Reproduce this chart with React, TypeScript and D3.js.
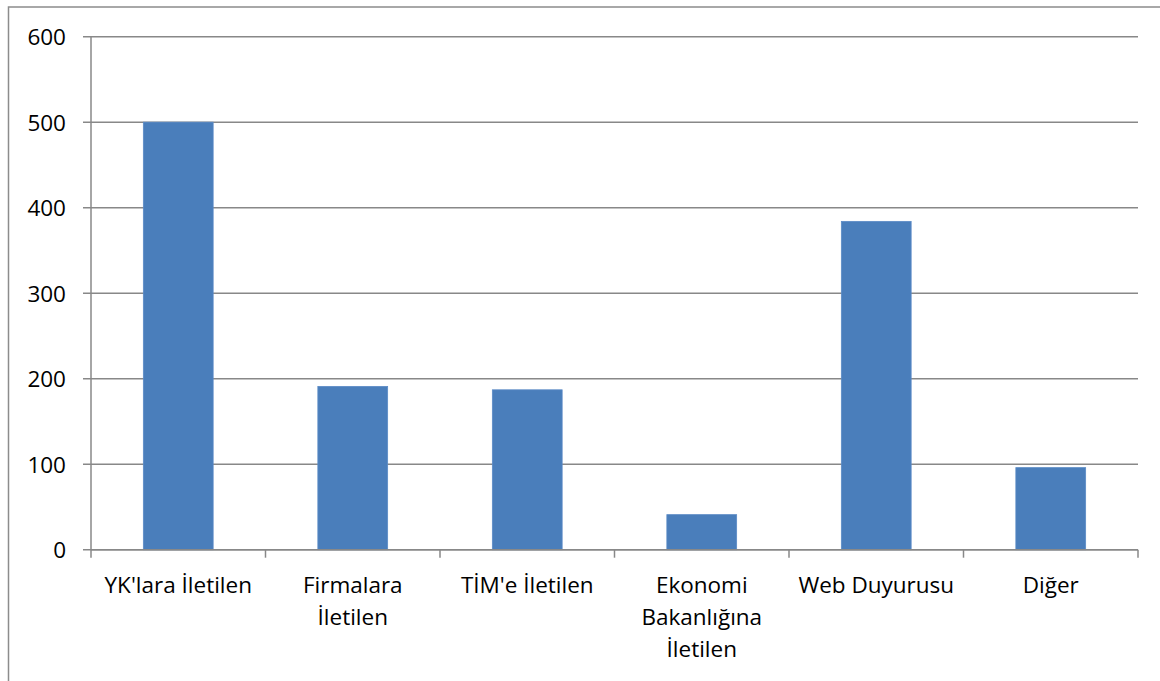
import React, { useEffect, useRef } from "react";
import * as d3 from "d3";

const categories: string[][] = [
  ["YK'lara İletilen"],
  ["Firmalara", "İletilen"],
  ["TİM'e İletilen"],
  ["Ekonomi", "Bakanlığına", "İletilen"],
  ["Web Duyurusu"],
  ["Diğer"],
];
const values: number[] = [500, 191, 187, 41, 384, 96];
const yTicks: number[] = [0, 100, 200, 300, 400, 500, 600];

const W = 1160;
const H = 681;

export default function App() {
  const ref = useRef<SVGSVGElement>(null);

  useEffect(() => {
    const svg = d3.select(ref.current);
    svg.selectAll("*").remove();

    const left = 91, right = 1138, top = 36.7, bottom = 549.7;
    const font = "Open Sans, sans-serif";
    const grid = "#888888";
    const fs = 22.5;

    const x = d3
      .scaleBand<number>()
      .domain(d3.range(categories.length))
      .range([left, right])
      .paddingInner(0.6)
      .paddingOuter(0.3);
    const step = (right - left) / categories.length;
    const y = d3.scaleLinear().domain([0, 600]).range([bottom, top]);

    // outer frame
    svg.append("rect")
      .attr("x", 8.5).attr("y", 7)
      .attr("width", W + 20).attr("height", H + 20)
      .attr("fill", "white")
      .attr("stroke", "#8c8c8c").attr("stroke-width", 1.5);

    // gridlines + y ticks
    yTicks.forEach((t) => {
      svg.append("line")
        .attr("x1", left - 8).attr("x2", right)
        .attr("y1", y(t)).attr("y2", y(t))
        .attr("stroke", grid).attr("stroke-width", 1.5);
      svg.append("text")
        .attr("x", 66).attr("y", y(t))
        .attr("text-anchor", "end")
        .attr("dominant-baseline", "central")
        .attr("font-family", font).attr("font-size", fs)
        .attr("fill", "#000")
        .text(String(t));
    });

    // y axis line
    svg.append("line")
      .attr("x1", left).attr("x2", left)
      .attr("y1", top).attr("y2", bottom)
      .attr("stroke", grid).attr("stroke-width", 1.5);

    // x tick marks at category boundaries
    d3.range(categories.length + 1).forEach((i) => {
      const xx = left + i * step;
      svg.append("line")
        .attr("x1", xx).attr("x2", xx)
        .attr("y1", bottom).attr("y2", bottom + 8)
        .attr("stroke", grid).attr("stroke-width", 1.5);
    });

    // bars
    svg.selectAll("rect.bar")
      .data(values)
      .enter()
      .append("rect")
      .attr("class", "bar")
      .attr("x", (_d, i) => x(i)!)
      .attr("width", x.bandwidth())
      .attr("y", (d) => y(d))
      .attr("height", (d) => y(0) - y(d))
      .attr("fill", "#4A7EBB")
      .attr("stroke", "#5B8BC6")
      .attr("stroke-width", 0.8);

    // x axis line on top of bars
    svg.append("line")
      .attr("x1", left).attr("x2", right)
      .attr("y1", bottom).attr("y2", bottom)
      .attr("stroke", grid).attr("stroke-width", 1.5);

    // category labels
    categories.forEach((lines, i) => {
      const cx = x(i)! + x.bandwidth() / 2;
      const t = svg.append("text")
        .attr("text-anchor", "middle")
        .attr("font-family", font).attr("font-size", fs)
        .attr("fill", "#000");
      lines.forEach((ln, j) => {
        t.append("tspan")
          .attr("x", cx)
          .attr("y", 593 + j * 32)
          .text(ln);
      });
    });
  }, []);

  return (
    <svg
      ref={ref}
      width={W}
      height={H}
      style={{ position: "absolute", left: 0, top: 0, background: "white" }}
    />
  );
}
